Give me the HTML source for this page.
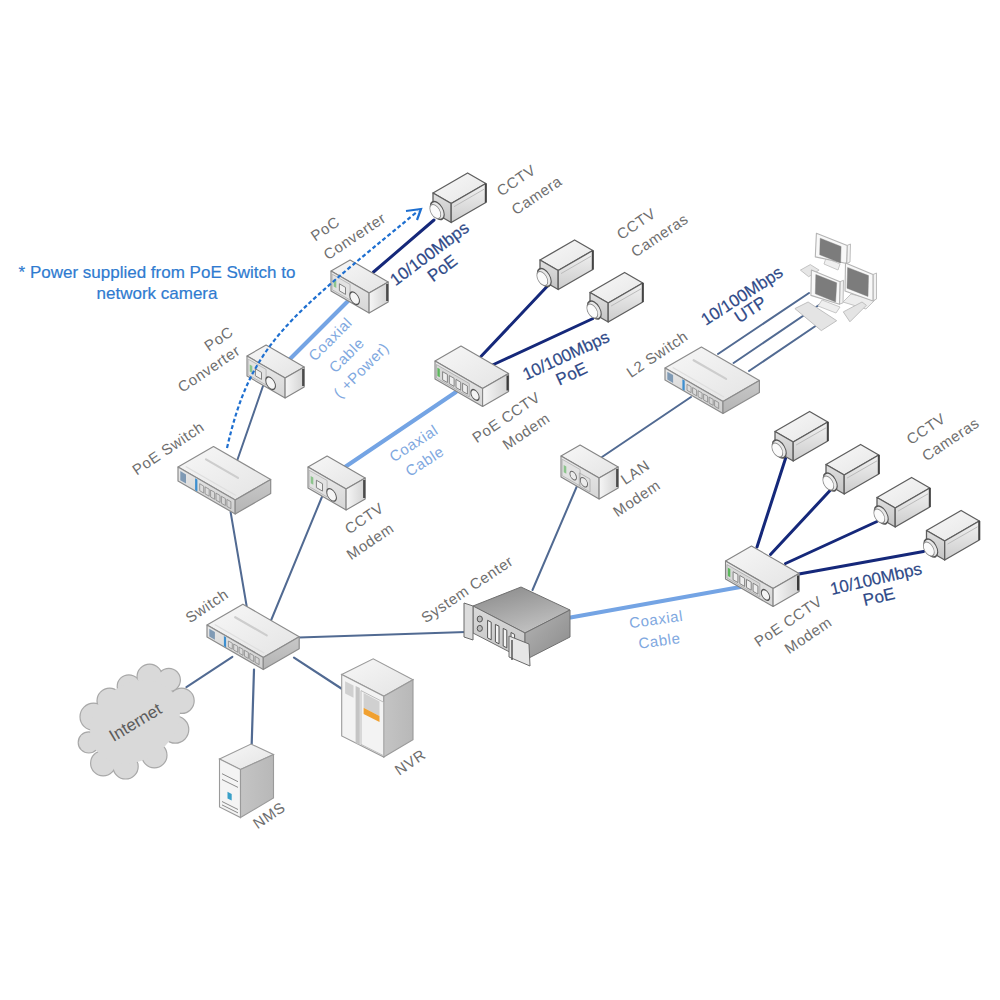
<!DOCTYPE html>
<html><head><meta charset="utf-8"><style>
html,body{margin:0;padding:0;background:#fff;width:1000px;height:1000px;overflow:hidden}
svg{display:block;font-family:"Liberation Sans",sans-serif}
</style></head><body>
<svg width="1000" height="1000" viewBox="0 0 1000 1000">
<defs>
<linearGradient id="gTop" x1="0" y1="0" x2="1" y2="1"><stop offset="0" stop-color="#f7f7f7"/><stop offset="1" stop-color="#e4e4e4"/></linearGradient>
<linearGradient id="gSwL" x1="0" y1="0" x2="0" y2="1"><stop offset="0" stop-color="#e8e8e8"/><stop offset="1" stop-color="#cfcfcf"/></linearGradient>
<linearGradient id="gSwR" x1="0" y1="0" x2="0" y2="1"><stop offset="0" stop-color="#c8c8c8"/><stop offset="1" stop-color="#b4b4b4"/></linearGradient>
<linearGradient id="gSbL" x1="0" y1="0" x2="0" y2="1"><stop offset="0" stop-color="#ececec"/><stop offset="1" stop-color="#d6d6d6"/></linearGradient>
<linearGradient id="gSbR" x1="0" y1="0" x2="1" y2="0"><stop offset="0" stop-color="#f6f6f6"/><stop offset="1" stop-color="#d2d2d2"/></linearGradient>
<linearGradient id="gCamT" x1="0" y1="0" x2="1" y2="1"><stop offset="0" stop-color="#f8f8f8"/><stop offset="1" stop-color="#e6e6e6"/></linearGradient>
<linearGradient id="gCamL" x1="0" y1="0" x2="0" y2="1"><stop offset="0" stop-color="#e0e0e0"/><stop offset="1" stop-color="#c4c4c4"/></linearGradient>
<linearGradient id="gCamR" x1="0" y1="0" x2="0" y2="1"><stop offset="0" stop-color="#f2f2f2"/><stop offset="1" stop-color="#cccccc"/></linearGradient>
<linearGradient id="gRackT" x1="0.2" y1="0" x2="0.7" y2="1"><stop offset="0" stop-color="#8c8c8c"/><stop offset="1" stop-color="#c4c4c4"/></linearGradient>
<linearGradient id="gRackL" x1="0" y1="0" x2="0" y2="1"><stop offset="0" stop-color="#dadada"/><stop offset="1" stop-color="#c4c4c4"/></linearGradient>
<linearGradient id="gRackR" x1="0" y1="0" x2="1" y2="1"><stop offset="0" stop-color="#b4b4b4"/><stop offset="1" stop-color="#8a8a8a"/></linearGradient>
<linearGradient id="gTwR" x1="0" y1="0" x2="1" y2="0"><stop offset="0" stop-color="#c4c4c4"/><stop offset="1" stop-color="#b8b8b8"/></linearGradient>
</defs>
<line x1="246.8" y1="607" x2="230.6" y2="512" stroke="#516a92" stroke-width="2" stroke-linecap="round"/>
<line x1="270.8" y1="621" x2="321.9" y2="497" stroke="#516a92" stroke-width="2" stroke-linecap="round"/>
<line x1="298.8" y1="637.6" x2="466" y2="632" stroke="#516a92" stroke-width="2" stroke-linecap="round"/>
<line x1="294" y1="657.6" x2="341.7" y2="688.75" stroke="#516a92" stroke-width="2.2" stroke-linecap="round"/>
<line x1="254" y1="669.6" x2="251.7" y2="744" stroke="#516a92" stroke-width="2.2" stroke-linecap="round"/>
<line x1="232.4" y1="656.8" x2="186.4" y2="687.2" stroke="#516a92" stroke-width="2" stroke-linecap="round"/>
<line x1="237" y1="461" x2="263" y2="386" stroke="#516a92" stroke-width="2" stroke-linecap="round"/>
<line x1="284" y1="365" x2="353" y2="296" stroke="#74a4e4" stroke-width="4" stroke-linecap="round"/>
<line x1="373.5" y1="272" x2="434" y2="220" stroke="#15287a" stroke-width="3" stroke-linecap="round"/>
<line x1="345" y1="467" x2="456" y2="392" stroke="#74a4e4" stroke-width="4" stroke-linecap="round"/>
<line x1="480" y1="357.5" x2="547.5" y2="286" stroke="#15287a" stroke-width="3" stroke-linecap="round"/>
<line x1="492.5" y1="365" x2="592.5" y2="318.75" stroke="#15287a" stroke-width="3" stroke-linecap="round"/>
<line x1="602" y1="457" x2="691" y2="397" stroke="#516a92" stroke-width="2" stroke-linecap="round"/>
<line x1="577" y1="486" x2="532.5" y2="590" stroke="#516a92" stroke-width="2" stroke-linecap="round"/>
<line x1="570.5" y1="617.5" x2="757" y2="584" stroke="#74a4e4" stroke-width="4" stroke-linecap="round"/>
<line x1="757" y1="547" x2="785.5" y2="458.5" stroke="#15287a" stroke-width="3" stroke-linecap="round"/>
<line x1="770.5" y1="554.5" x2="830.5" y2="490" stroke="#15287a" stroke-width="3" stroke-linecap="round"/>
<line x1="785.5" y1="563.5" x2="877" y2="521.5" stroke="#15287a" stroke-width="3" stroke-linecap="round"/>
<line x1="799" y1="574" x2="923.5" y2="551.5" stroke="#15287a" stroke-width="3" stroke-linecap="round"/>
<line x1="718" y1="354" x2="809" y2="293" stroke="#516a92" stroke-width="2" stroke-linecap="round"/>
<line x1="733.6" y1="363" x2="822" y2="303" stroke="#516a92" stroke-width="2" stroke-linecap="round"/>
<line x1="749" y1="371" x2="817" y2="325" stroke="#516a92" stroke-width="2" stroke-linecap="round"/>
<polygon points="178.0,467.0 213.5,446.5 270.7,479.5 235.2,500.0" fill="url(#gTop)" stroke="#8c8c8c" stroke-width="1.2" stroke-linejoin="round"/>
<polygon points="178.0,467.0 235.2,500.0 235.2,514.0 178.0,481.0" fill="url(#gSwL)" stroke="#8c8c8c" stroke-width="1.2" stroke-linejoin="round"/>
<polygon points="235.2,500.0 270.7,479.5 270.7,493.5 235.2,514.0" fill="url(#gSwR)" stroke="#8c8c8c" stroke-width="1.2" stroke-linejoin="round"/>
<line x1="206.0" y1="459.4" x2="238.0" y2="477.9" stroke="#cdcdcd" stroke-width="2.2" stroke-linecap="round"/>
<line x1="185.7" y1="466.5" x2="236.0" y2="495.6" stroke="#dedede" stroke-width="1.2"/>
<polygon points="180.3,471.1 186.0,474.4 186.0,483.5 180.3,480.2" fill="#7f9ab5"/>
<polygon points="195.1,478.3 197.4,479.6 197.4,491.5 195.1,490.2" fill="#3d8fd0"/>
<polygon points="199.7,483.7 203.7,486.1 203.7,493.1 199.7,490.7" fill="none" stroke="#888" stroke-width="0.8"/>
<polygon points="205.1,486.9 209.2,489.2 209.2,496.2 205.1,493.9" fill="none" stroke="#888" stroke-width="0.8"/>
<polygon points="210.6,490.0 214.6,492.3 214.6,499.3 210.6,497.0" fill="none" stroke="#888" stroke-width="0.8"/>
<polygon points="216.0,493.1 220.0,495.5 220.0,502.5 216.0,500.1" fill="none" stroke="#888" stroke-width="0.8"/>
<polygon points="221.4,496.3 225.4,498.6 225.4,505.6 221.4,503.3" fill="none" stroke="#888" stroke-width="0.8"/>
<polygon points="226.9,499.4 230.9,501.7 230.9,508.7 226.9,506.4" fill="none" stroke="#888" stroke-width="0.8"/>
<polygon points="207.0,625.0 242.9,604.2 299.2,636.8 263.3,657.5" fill="url(#gTop)" stroke="#8c8c8c" stroke-width="1.2" stroke-linejoin="round"/>
<polygon points="207.0,625.0 263.3,657.5 263.3,669.5 207.0,637.0" fill="url(#gSwL)" stroke="#8c8c8c" stroke-width="1.2" stroke-linejoin="round"/>
<polygon points="263.3,657.5 299.2,636.8 299.2,648.8 263.3,669.5" fill="url(#gSwR)" stroke="#8c8c8c" stroke-width="1.2" stroke-linejoin="round"/>
<line x1="235.2" y1="617.2" x2="266.7" y2="635.4" stroke="#cdcdcd" stroke-width="2.2" stroke-linecap="round"/>
<line x1="214.7" y1="624.5" x2="264.2" y2="653.1" stroke="#dedede" stroke-width="1.2"/>
<polygon points="209.3,628.7 214.9,631.9 214.9,639.8 209.3,636.5" fill="#7f9ab5"/>
<polygon points="223.9,636.0 226.1,637.2 226.1,647.4 223.9,646.1" fill="#3d8fd0"/>
<polygon points="228.4,641.0 232.3,643.2 232.3,649.2 228.4,647.0" fill="none" stroke="#888" stroke-width="0.8"/>
<polygon points="233.7,644.0 237.7,646.3 237.7,652.3 233.7,650.0" fill="none" stroke="#888" stroke-width="0.8"/>
<polygon points="239.1,647.1 243.0,649.4 243.0,655.4 239.1,653.1" fill="none" stroke="#888" stroke-width="0.8"/>
<polygon points="244.4,650.2 248.4,652.5 248.4,658.5 244.4,656.2" fill="none" stroke="#888" stroke-width="0.8"/>
<polygon points="249.8,653.3 253.7,655.6 253.7,661.6 249.8,659.3" fill="none" stroke="#888" stroke-width="0.8"/>
<polygon points="255.1,656.4 259.1,658.7 259.1,664.7 255.1,662.4" fill="none" stroke="#888" stroke-width="0.8"/>
<polygon points="665.0,368.0 701.4,347.0 759.4,380.5 723.0,401.5" fill="url(#gTop)" stroke="#8c8c8c" stroke-width="1.2" stroke-linejoin="round"/>
<polygon points="665.0,368.0 723.0,401.5 723.0,413.5 665.0,380.0" fill="url(#gSwL)" stroke="#8c8c8c" stroke-width="1.2" stroke-linejoin="round"/>
<polygon points="723.0,401.5 759.4,380.5 759.4,392.5 723.0,413.5" fill="url(#gSwR)" stroke="#8c8c8c" stroke-width="1.2" stroke-linejoin="round"/>
<line x1="693.6" y1="360.2" x2="726.1" y2="378.9" stroke="#cdcdcd" stroke-width="2.2" stroke-linecap="round"/>
<line x1="672.8" y1="367.5" x2="723.9" y2="397.0" stroke="#dedede" stroke-width="1.2"/>
<polygon points="667.3,371.7 673.1,375.1 673.1,382.9 667.3,379.5" fill="#7f9ab5"/>
<polygon points="682.4,379.2 684.7,380.6 684.7,390.8 682.4,389.4" fill="#3d8fd0"/>
<polygon points="687.0,384.3 691.1,386.7 691.1,392.7 687.0,390.3" fill="none" stroke="#888" stroke-width="0.8"/>
<polygon points="692.6,387.5 696.6,389.9 696.6,395.9 692.6,393.5" fill="none" stroke="#888" stroke-width="0.8"/>
<polygon points="698.1,390.7 702.1,393.0 702.1,399.0 698.1,396.7" fill="none" stroke="#888" stroke-width="0.8"/>
<polygon points="703.6,393.9 707.6,396.2 707.6,402.2 703.6,399.9" fill="none" stroke="#888" stroke-width="0.8"/>
<polygon points="709.1,397.1 713.2,399.4 713.2,405.4 709.1,403.1" fill="none" stroke="#888" stroke-width="0.8"/>
<polygon points="714.6,400.2 718.7,402.6 718.7,408.6 714.6,406.2" fill="none" stroke="#888" stroke-width="0.8"/>
<polygon points="247.0,356.0 266.1,345.0 304.2,367.0 285.1,378.0" fill="url(#gTop)" stroke="#858585" stroke-width="1.1" stroke-linejoin="round"/>
<polygon points="247.0,356.0 285.1,378.0 285.1,398.0 247.0,376.0" fill="url(#gSbL)" stroke="#858585" stroke-width="1.1" stroke-linejoin="round"/>
<polygon points="285.1,378.0 304.2,367.0 304.2,387.0 285.1,398.0" fill="url(#gSbR)" stroke="#858585" stroke-width="1.1" stroke-linejoin="round"/>
<line x1="303.2" y1="369.0" x2="303.2" y2="386.0" stroke="#4a4a4a" stroke-width="2.2"/>
<polygon points="248.1,359.1 266.1,369.4 266.1,385.0 248.1,374.7" fill="#e2e2e2" stroke="#b0b0b0" stroke-width="0.8"/>
<polygon points="249.7,364.5 252.3,366.1 252.3,373.1 249.7,371.5" fill="#8cc48c"/>
<polygon points="255.4,368.8 261.5,372.4 261.5,379.4 255.4,375.8" fill="#f0f0f0" stroke="#777" stroke-width="0.9"/>
<ellipse cx="0" cy="0" rx="5.6" ry="5.6" transform="matrix(0.8660,0.5000,0,1,270.6,383.2)" fill="#f6f6f6" stroke="#555" stroke-width="1.2"/>
<polygon points="331.0,271.0 350.1,260.0 388.2,282.0 369.1,293.0" fill="url(#gTop)" stroke="#858585" stroke-width="1.1" stroke-linejoin="round"/>
<polygon points="331.0,271.0 369.1,293.0 369.1,313.0 331.0,291.0" fill="url(#gSbL)" stroke="#858585" stroke-width="1.1" stroke-linejoin="round"/>
<polygon points="369.1,293.0 388.2,282.0 388.2,302.0 369.1,313.0" fill="url(#gSbR)" stroke="#858585" stroke-width="1.1" stroke-linejoin="round"/>
<line x1="387.2" y1="284.0" x2="387.2" y2="301.0" stroke="#4a4a4a" stroke-width="2.2"/>
<polygon points="332.1,274.1 350.1,284.4 350.1,300.0 332.1,289.7" fill="#e2e2e2" stroke="#b0b0b0" stroke-width="0.8"/>
<polygon points="333.7,279.5 336.3,281.1 336.3,288.1 333.7,286.5" fill="#8cc48c"/>
<polygon points="339.4,283.8 345.5,287.4 345.5,294.4 339.4,290.8" fill="#f0f0f0" stroke="#777" stroke-width="0.9"/>
<ellipse cx="0" cy="0" rx="5.6" ry="5.6" transform="matrix(0.8660,0.5000,0,1,354.6,298.2)" fill="#f6f6f6" stroke="#555" stroke-width="1.2"/>
<polygon points="308.0,467.0 327.1,456.0 365.2,478.0 346.1,489.0" fill="url(#gTop)" stroke="#858585" stroke-width="1.1" stroke-linejoin="round"/>
<polygon points="308.0,467.0 346.1,489.0 346.1,510.0 308.0,488.0" fill="url(#gSbL)" stroke="#858585" stroke-width="1.1" stroke-linejoin="round"/>
<polygon points="346.1,489.0 365.2,478.0 365.2,499.0 346.1,510.0" fill="url(#gSbR)" stroke="#858585" stroke-width="1.1" stroke-linejoin="round"/>
<line x1="364.2" y1="480.0" x2="364.2" y2="498.0" stroke="#4a4a4a" stroke-width="2.2"/>
<polygon points="309.1,470.2 327.1,480.5 327.1,496.9 309.1,486.6" fill="#e2e2e2" stroke="#b0b0b0" stroke-width="0.8"/>
<polygon points="310.7,475.9 313.3,477.4 313.3,484.8 310.7,483.2" fill="#8cc48c"/>
<polygon points="316.4,480.2 322.5,483.8 322.5,491.1 316.4,487.6" fill="#f0f0f0" stroke="#777" stroke-width="0.9"/>
<ellipse cx="0" cy="0" rx="5.6" ry="5.6" transform="matrix(0.8660,0.5000,0,1,331.6,494.9)" fill="#f6f6f6" stroke="#555" stroke-width="1.2"/>
<polygon points="561.0,456.0 580.1,445.0 618.2,467.0 599.1,478.0" fill="url(#gTop)" stroke="#858585" stroke-width="1.1" stroke-linejoin="round"/>
<polygon points="561.0,456.0 599.1,478.0 599.1,499.0 561.0,477.0" fill="url(#gSbL)" stroke="#858585" stroke-width="1.1" stroke-linejoin="round"/>
<polygon points="599.1,478.0 618.2,467.0 618.2,488.0 599.1,499.0" fill="url(#gSbR)" stroke="#858585" stroke-width="1.1" stroke-linejoin="round"/>
<line x1="617.2" y1="469.0" x2="617.2" y2="487.0" stroke="#4a4a4a" stroke-width="2.2"/>
<polygon points="562.1,459.2 580.1,469.5 580.1,485.9 562.1,475.6" fill="#e2e2e2" stroke="#b0b0b0" stroke-width="0.8"/>
<polygon points="563.7,464.9 566.3,466.4 566.3,473.8 563.7,472.2" fill="#8cc48c"/>
<ellipse cx="0" cy="0" rx="3.8" ry="3.8" transform="matrix(0.8660,0.5000,0,1,573.2,475.6)" fill="#ececec" stroke="#666" stroke-width="1"/>
<ellipse cx="0" cy="0" rx="4.2" ry="4.2" transform="matrix(0.8660,0.5000,0,1,583.9,482.2)" fill="#ececec" stroke="#666" stroke-width="1"/>
<polygon points="579.3,472.9 590.0,479.0 590.0,492.0 579.3,485.9" fill="none" stroke="#aaa" stroke-width="0.8"/>
<polygon points="435.0,361.0 461.0,346.0 508.6,373.5 482.6,388.5" fill="url(#gTop)" stroke="#858585" stroke-width="1.1" stroke-linejoin="round"/>
<polygon points="435.0,361.0 482.6,388.5 482.6,406.5 435.0,379.0" fill="url(#gSbL)" stroke="#858585" stroke-width="1.1" stroke-linejoin="round"/>
<polygon points="482.6,388.5 508.6,373.5 508.6,391.5 482.6,406.5" fill="url(#gSbR)" stroke="#858585" stroke-width="1.1" stroke-linejoin="round"/>
<line x1="507.6" y1="375.5" x2="507.6" y2="390.5" stroke="#3a3a3a" stroke-width="2.2"/>
<polygon points="436.4,364.5 469.3,383.5 469.3,397.0 436.4,378.0" fill="#d8d8d8" stroke="#a8a8a8" stroke-width="0.8"/>
<polygon points="437.4,367.8 439.8,369.1 439.8,377.2 437.4,375.9" fill="#5cb85c"/>
<polygon points="442.6,371.7 447.4,374.4 447.4,382.5 442.6,379.8" fill="#eeeeee" stroke="#7a7a7a" stroke-width="0.9"/>
<polygon points="449.3,375.6 454.1,378.3 454.1,386.4 449.3,383.6" fill="#eeeeee" stroke="#7a7a7a" stroke-width="0.9"/>
<polygon points="456.0,379.4 460.7,382.2 460.7,390.2 456.0,387.5" fill="#eeeeee" stroke="#7a7a7a" stroke-width="0.9"/>
<polygon points="462.6,383.2 467.4,386.0 467.4,394.1 462.6,391.3" fill="#eeeeee" stroke="#7a7a7a" stroke-width="0.9"/>
<ellipse cx="0" cy="0" rx="4.8" ry="4.8" transform="matrix(0.8660,0.5000,0,1,475.0,394.9)" fill="#f4f4f4" stroke="#555" stroke-width="1.2"/>
<polygon points="725.5,561.0 751.5,546.0 799.1,573.5 773.1,588.5" fill="url(#gTop)" stroke="#858585" stroke-width="1.1" stroke-linejoin="round"/>
<polygon points="725.5,561.0 773.1,588.5 773.1,606.5 725.5,579.0" fill="url(#gSbL)" stroke="#858585" stroke-width="1.1" stroke-linejoin="round"/>
<polygon points="773.1,588.5 799.1,573.5 799.1,591.5 773.1,606.5" fill="url(#gSbR)" stroke="#858585" stroke-width="1.1" stroke-linejoin="round"/>
<line x1="798.1" y1="575.5" x2="798.1" y2="590.5" stroke="#3a3a3a" stroke-width="2.2"/>
<polygon points="726.9,564.5 759.8,583.5 759.8,597.0 726.9,578.0" fill="#d8d8d8" stroke="#a8a8a8" stroke-width="0.8"/>
<polygon points="727.9,567.8 730.3,569.1 730.3,577.2 727.9,575.9" fill="#5cb85c"/>
<polygon points="733.1,571.7 737.9,574.4 737.9,582.5 733.1,579.8" fill="#eeeeee" stroke="#7a7a7a" stroke-width="0.9"/>
<polygon points="739.8,575.5 744.6,578.3 744.6,586.4 739.8,583.6" fill="#eeeeee" stroke="#7a7a7a" stroke-width="0.9"/>
<polygon points="746.5,579.4 751.2,582.1 751.2,590.2 746.5,587.5" fill="#eeeeee" stroke="#7a7a7a" stroke-width="0.9"/>
<polygon points="753.1,583.2 757.9,586.0 757.9,594.1 753.1,591.4" fill="#eeeeee" stroke="#7a7a7a" stroke-width="0.9"/>
<ellipse cx="0" cy="0" rx="4.8" ry="4.8" transform="matrix(0.8660,0.5000,0,1,765.5,594.9)" fill="#f4f4f4" stroke="#555" stroke-width="1.2"/>
<polygon points="433.0,193.0 467.6,173.0 485.8,183.5 451.2,203.5" fill="url(#gCamT)" stroke="#5e5e5e" stroke-width="1.3" stroke-linejoin="round"/>
<polygon points="433.0,193.0 451.2,203.5 451.2,222.5 433.0,212.0" fill="url(#gCamL)" stroke="#5e5e5e" stroke-width="1.3" stroke-linejoin="round"/>
<polygon points="451.2,203.5 485.8,183.5 485.8,202.5 451.2,222.5" fill="url(#gCamR)" stroke="#5e5e5e" stroke-width="1.3" stroke-linejoin="round"/>
<line x1="485.8" y1="183.5" x2="485.8" y2="202.5" stroke="#444" stroke-width="2"/>
<line x1="454.0" y1="206.7" x2="484.1" y2="189.2" stroke="#bbb" stroke-width="1"/>
<ellipse cx="0" cy="0" rx="8" ry="8" transform="matrix(0.8660,0.5000,0,1,437.3,210.5)" fill="#e8e8e8" stroke="#555" stroke-width="1.3"/>
<ellipse cx="0" cy="0" rx="6.3" ry="6.3" transform="matrix(0.8660,0.5000,0,1,435.3,211.5)" fill="#fbfbfb" stroke="#888" stroke-width="0.9"/>
<polygon points="540.0,260.0 574.6,240.0 592.8,250.5 558.2,270.5" fill="url(#gCamT)" stroke="#5e5e5e" stroke-width="1.3" stroke-linejoin="round"/>
<polygon points="540.0,260.0 558.2,270.5 558.2,289.5 540.0,279.0" fill="url(#gCamL)" stroke="#5e5e5e" stroke-width="1.3" stroke-linejoin="round"/>
<polygon points="558.2,270.5 592.8,250.5 592.8,269.5 558.2,289.5" fill="url(#gCamR)" stroke="#5e5e5e" stroke-width="1.3" stroke-linejoin="round"/>
<line x1="592.8" y1="250.5" x2="592.8" y2="269.5" stroke="#444" stroke-width="2"/>
<line x1="561.0" y1="273.6" x2="591.1" y2="256.2" stroke="#bbb" stroke-width="1"/>
<ellipse cx="0" cy="0" rx="8" ry="8" transform="matrix(0.8660,0.5000,0,1,544.3,277.5)" fill="#e8e8e8" stroke="#555" stroke-width="1.3"/>
<ellipse cx="0" cy="0" rx="6.3" ry="6.3" transform="matrix(0.8660,0.5000,0,1,542.3,278.5)" fill="#fbfbfb" stroke="#888" stroke-width="0.9"/>
<polygon points="590.0,292.5 624.6,272.5 642.8,283.0 608.2,303.0" fill="url(#gCamT)" stroke="#5e5e5e" stroke-width="1.3" stroke-linejoin="round"/>
<polygon points="590.0,292.5 608.2,303.0 608.2,322.0 590.0,311.5" fill="url(#gCamL)" stroke="#5e5e5e" stroke-width="1.3" stroke-linejoin="round"/>
<polygon points="608.2,303.0 642.8,283.0 642.8,302.0 608.2,322.0" fill="url(#gCamR)" stroke="#5e5e5e" stroke-width="1.3" stroke-linejoin="round"/>
<line x1="642.8" y1="283.0" x2="642.8" y2="302.0" stroke="#444" stroke-width="2"/>
<line x1="611.0" y1="306.1" x2="641.1" y2="288.8" stroke="#bbb" stroke-width="1"/>
<ellipse cx="0" cy="0" rx="8" ry="8" transform="matrix(0.8660,0.5000,0,1,594.3,310.0)" fill="#e8e8e8" stroke="#555" stroke-width="1.3"/>
<ellipse cx="0" cy="0" rx="6.3" ry="6.3" transform="matrix(0.8660,0.5000,0,1,592.3,311.0)" fill="#fbfbfb" stroke="#888" stroke-width="0.9"/>
<polygon points="775.0,431.5 809.6,411.5 827.8,422.0 793.2,442.0" fill="url(#gCamT)" stroke="#5e5e5e" stroke-width="1.3" stroke-linejoin="round"/>
<polygon points="775.0,431.5 793.2,442.0 793.2,461.0 775.0,450.5" fill="url(#gCamL)" stroke="#5e5e5e" stroke-width="1.3" stroke-linejoin="round"/>
<polygon points="793.2,442.0 827.8,422.0 827.8,441.0 793.2,461.0" fill="url(#gCamR)" stroke="#5e5e5e" stroke-width="1.3" stroke-linejoin="round"/>
<line x1="827.8" y1="422.0" x2="827.8" y2="441.0" stroke="#444" stroke-width="2"/>
<line x1="796.0" y1="445.1" x2="826.1" y2="427.8" stroke="#bbb" stroke-width="1"/>
<ellipse cx="0" cy="0" rx="8" ry="8" transform="matrix(0.8660,0.5000,0,1,779.3,449.0)" fill="#e8e8e8" stroke="#555" stroke-width="1.3"/>
<ellipse cx="0" cy="0" rx="6.3" ry="6.3" transform="matrix(0.8660,0.5000,0,1,777.3,450.0)" fill="#fbfbfb" stroke="#888" stroke-width="0.9"/>
<polygon points="826.0,464.5 860.6,444.5 878.8,455.0 844.2,475.0" fill="url(#gCamT)" stroke="#5e5e5e" stroke-width="1.3" stroke-linejoin="round"/>
<polygon points="826.0,464.5 844.2,475.0 844.2,494.0 826.0,483.5" fill="url(#gCamL)" stroke="#5e5e5e" stroke-width="1.3" stroke-linejoin="round"/>
<polygon points="844.2,475.0 878.8,455.0 878.8,474.0 844.2,494.0" fill="url(#gCamR)" stroke="#5e5e5e" stroke-width="1.3" stroke-linejoin="round"/>
<line x1="878.8" y1="455.0" x2="878.8" y2="474.0" stroke="#444" stroke-width="2"/>
<line x1="847.0" y1="478.1" x2="877.1" y2="460.8" stroke="#bbb" stroke-width="1"/>
<ellipse cx="0" cy="0" rx="8" ry="8" transform="matrix(0.8660,0.5000,0,1,830.3,482.0)" fill="#e8e8e8" stroke="#555" stroke-width="1.3"/>
<ellipse cx="0" cy="0" rx="6.3" ry="6.3" transform="matrix(0.8660,0.5000,0,1,828.3,483.0)" fill="#fbfbfb" stroke="#888" stroke-width="0.9"/>
<polygon points="877.0,497.5 911.6,477.5 929.8,488.0 895.2,508.0" fill="url(#gCamT)" stroke="#5e5e5e" stroke-width="1.3" stroke-linejoin="round"/>
<polygon points="877.0,497.5 895.2,508.0 895.2,527.0 877.0,516.5" fill="url(#gCamL)" stroke="#5e5e5e" stroke-width="1.3" stroke-linejoin="round"/>
<polygon points="895.2,508.0 929.8,488.0 929.8,507.0 895.2,527.0" fill="url(#gCamR)" stroke="#5e5e5e" stroke-width="1.3" stroke-linejoin="round"/>
<line x1="929.8" y1="488.0" x2="929.8" y2="507.0" stroke="#444" stroke-width="2"/>
<line x1="898.0" y1="511.1" x2="928.1" y2="493.8" stroke="#bbb" stroke-width="1"/>
<ellipse cx="0" cy="0" rx="8" ry="8" transform="matrix(0.8660,0.5000,0,1,881.3,515.0)" fill="#e8e8e8" stroke="#555" stroke-width="1.3"/>
<ellipse cx="0" cy="0" rx="6.3" ry="6.3" transform="matrix(0.8660,0.5000,0,1,879.3,516.0)" fill="#fbfbfb" stroke="#888" stroke-width="0.9"/>
<polygon points="926.5,530.5 961.1,510.5 979.3,521.0 944.7,541.0" fill="url(#gCamT)" stroke="#5e5e5e" stroke-width="1.3" stroke-linejoin="round"/>
<polygon points="926.5,530.5 944.7,541.0 944.7,560.0 926.5,549.5" fill="url(#gCamL)" stroke="#5e5e5e" stroke-width="1.3" stroke-linejoin="round"/>
<polygon points="944.7,541.0 979.3,521.0 979.3,540.0 944.7,560.0" fill="url(#gCamR)" stroke="#5e5e5e" stroke-width="1.3" stroke-linejoin="round"/>
<line x1="979.3" y1="521.0" x2="979.3" y2="540.0" stroke="#444" stroke-width="2"/>
<line x1="947.5" y1="544.1" x2="977.6" y2="526.8" stroke="#bbb" stroke-width="1"/>
<ellipse cx="0" cy="0" rx="8" ry="8" transform="matrix(0.8660,0.5000,0,1,930.8,548.0)" fill="#e8e8e8" stroke="#555" stroke-width="1.3"/>
<ellipse cx="0" cy="0" rx="6.3" ry="6.3" transform="matrix(0.8660,0.5000,0,1,928.8,549.0)" fill="#fbfbfb" stroke="#888" stroke-width="0.9"/>
<polygon points="473.0,606.0 521.0,587.0 570.0,610.0 525.0,633.0" fill="url(#gRackT)" stroke="#707070" stroke-width="1"/>
<polygon points="473.0,606.0 525.0,633.0 525.0,660.0 473.0,633.0" fill="url(#gRackL)" stroke="#707070" stroke-width="1"/>
<polygon points="525.0,633.0 570.0,610.0 570.0,637.0 525.0,660.0" fill="url(#gRackR)" stroke="#707070" stroke-width="1"/>
<polygon points="464.0,603.0 473.0,606.0 473.0,640.0 464.0,637.0" fill="#dcdcdc" stroke="#6a6a6a" stroke-width="1"/>
<polygon points="487.6,620.3 491.2,622.2 491.2,639.8 487.6,637.9" fill="#f4f4f4" stroke="#555" stroke-width="1"/>
<polygon points="495.4,624.4 499.0,626.2 499.0,643.8 495.4,641.9" fill="#f4f4f4" stroke="#555" stroke-width="1"/>
<polygon points="503.2,628.4 506.8,630.3 506.8,647.8 503.2,646.0" fill="#f4f4f4" stroke="#555" stroke-width="1"/>
<polygon points="511.0,632.5 514.6,634.4 514.6,651.9 511.0,650.0" fill="#f4f4f4" stroke="#555" stroke-width="1"/>
<ellipse cx="479.8" cy="619.0" rx="2.6" ry="3" fill="#bbb" stroke="#555" stroke-width="1"/>
<ellipse cx="479.8" cy="628.4" rx="2.6" ry="3" fill="#bbb" stroke="#555" stroke-width="1"/>
<polygon points="509.0,636.0 529.0,644.0 530.0,666.0 509.0,657.0" fill="#e6e6e6" stroke="#6a6a6a" stroke-width="1"/>
<line x1="512" y1="640" x2="512" y2="660" stroke="#555" stroke-width="1.5"/>
<polygon points="219.5,759.0 251.0,744.0 273.5,754.5 240.5,769.5" fill="url(#gTop)" stroke="#9a9a9a" stroke-width="1.1"/>
<polygon points="219.5,759.0 240.5,769.5 240.5,817.5 219.5,807.0" fill="#f4f4f4" stroke="#9a9a9a" stroke-width="1.1"/>
<polygon points="240.5,769.5 273.5,754.5 273.5,798.0 240.5,817.5" fill="url(#gTwR)" stroke="#9a9a9a" stroke-width="1.1"/>
<line x1="222.0" y1="773.7" x2="238.0" y2="781.7" stroke="#8a8a8a" stroke-width="1"/>
<line x1="222.0" y1="779.5" x2="238.0" y2="787.4" stroke="#8a8a8a" stroke-width="1"/>
<line x1="222.0" y1="801.5" x2="238.0" y2="809.5" stroke="#8a8a8a" stroke-width="1"/>
<line x1="222.0" y1="804.9" x2="238.0" y2="812.9" stroke="#8a8a8a" stroke-width="1"/>
<polygon points="227.5,791.8 231.7,793.9 231.7,800.6 227.5,798.5" fill="#3aa0c8"/>
<polygon points="341.7,674.5 373.2,658.8 413.0,679.8 383.8,696.2" fill="url(#gTop)" stroke="#9a9a9a" stroke-width="1.1"/>
<polygon points="341.7,674.5 383.8,696.2 383.8,757.0 341.7,736.0" fill="#f3f3f3" stroke="#9a9a9a" stroke-width="1.1"/>
<polygon points="383.8,696.2 413.0,679.8 413.0,739.8 383.8,757.0" fill="url(#gTwR)" stroke="#9a9a9a" stroke-width="1.1"/>
<polygon points="355.6,686.0 359.8,688.1 359.8,745.0 355.6,742.9" fill="#c4c4c4"/>
<polygon points="345.1,681.2 353.5,685.5 353.5,697.8 345.1,693.4" fill="#d0d0d0"/>
<polygon points="363.6,693.1 379.5,701.4 379.5,716.0 363.6,707.8" fill="#d0d0d0"/>
<polygon points="363.6,707.8 379.5,716.0 379.5,722.1 363.6,713.9" fill="#f0a030"/>
<polygon points="361.0,690.6 383.8,702.3 383.8,755.8 361.0,744.4" fill="none" stroke="#bdbdbd" stroke-width="1"/>
<path d="M227,448 C250.8,344 285,320.7 418,211" fill="none" stroke="#1e6fd0" stroke-width="2.2" stroke-dasharray="4,2.5"/>
<polyline points="406,211 421,209 417,220" fill="none" stroke="#1e6fd0" stroke-width="2.2" stroke-linejoin="miter"/>
<g>
<circle cx="149.6" cy="676.8" r="12" fill="#a8a8a8" stroke="#a8a8a8" stroke-width="2.4"/>
<circle cx="128.8" cy="686.4" r="11" fill="#a8a8a8" stroke="#a8a8a8" stroke-width="2.4"/>
<circle cx="109.6" cy="700.8" r="12" fill="#a8a8a8" stroke="#a8a8a8" stroke-width="2.4"/>
<circle cx="93.6" cy="716.8" r="13" fill="#a8a8a8" stroke="#a8a8a8" stroke-width="2.4"/>
<circle cx="88.8" cy="742.4" r="10" fill="#a8a8a8" stroke="#a8a8a8" stroke-width="2.4"/>
<circle cx="103.2" cy="763.2" r="12" fill="#a8a8a8" stroke="#a8a8a8" stroke-width="2.4"/>
<circle cx="125.6" cy="766.4" r="12" fill="#a8a8a8" stroke="#a8a8a8" stroke-width="2.4"/>
<circle cx="154.4" cy="755.2" r="12" fill="#a8a8a8" stroke="#a8a8a8" stroke-width="2.4"/>
<circle cx="175.2" cy="729.6" r="13" fill="#a8a8a8" stroke="#a8a8a8" stroke-width="2.4"/>
<circle cx="181.6" cy="700.8" r="12" fill="#a8a8a8" stroke="#a8a8a8" stroke-width="2.4"/>
<circle cx="168.8" cy="680" r="11" fill="#a8a8a8" stroke="#a8a8a8" stroke-width="2.4"/>
<circle cx="149.6" cy="676.8" r="12" fill="#d9d9d9"/>
<circle cx="128.8" cy="686.4" r="11" fill="#d9d9d9"/>
<circle cx="109.6" cy="700.8" r="12" fill="#d9d9d9"/>
<circle cx="93.6" cy="716.8" r="13" fill="#d9d9d9"/>
<circle cx="88.8" cy="742.4" r="10" fill="#d9d9d9"/>
<circle cx="103.2" cy="763.2" r="12" fill="#d9d9d9"/>
<circle cx="125.6" cy="766.4" r="12" fill="#d9d9d9"/>
<circle cx="154.4" cy="755.2" r="12" fill="#d9d9d9"/>
<circle cx="175.2" cy="729.6" r="13" fill="#d9d9d9"/>
<circle cx="181.6" cy="700.8" r="12" fill="#d9d9d9"/>
<circle cx="168.8" cy="680" r="11" fill="#d9d9d9"/>
<ellipse cx="135" cy="722" rx="48" ry="38" transform="rotate(-35 135 722)" fill="#d9d9d9"/>
</g>
<polygon points="800.4,270.1 810.3,264.6 819.1,270.1 808.7,276.7" fill="#e6e6e6" stroke="#c4c4c4" stroke-width="1.0" stroke-linejoin="round"/>
<polygon points="826.0,258.0 840.0,264.0 838.0,270.0 824.0,264.0" fill="#efefef" stroke="#c8c8c8" stroke-width="1.0" stroke-linejoin="round"/>
<polygon points="847.2,245.4 850.5,244.0 850.0,262.0 846.6,263.5" fill="#f2f2f2" stroke="#bdbdbd" stroke-width="1" stroke-linejoin="round"/>
<polygon points="816.4,233.3 847.2,245.4 846.6,263.5 815.3,256.9" fill="#f8f8f8" stroke="#b4b4b4" stroke-width="1.1" stroke-linejoin="round"/>
<polygon points="820.2,238.2 841.1,246.5 840.6,263.0 819.7,254.7" fill="#7c7c7c" stroke="#7c7c7c" stroke-width="0.4" stroke-linejoin="round"/>
<polygon points="851.0,294.0 875.0,300.0 866.0,309.0 843.0,302.0" fill="#ededed" stroke="#c4c4c4" stroke-width="1.0" stroke-linejoin="round"/>
<polygon points="873.0,274.5 876.5,273.0 876.5,299.0 873.0,300.9" fill="#f2f2f2" stroke="#bdbdbd" stroke-width="1" stroke-linejoin="round"/>
<polygon points="845.5,263.0 873.0,274.5 873.0,300.9 845.0,291.0" fill="#f8f8f8" stroke="#b4b4b4" stroke-width="1.1" stroke-linejoin="round"/>
<polygon points="847.6,267.4 868.5,275.6 868.0,296.5 847.0,288.2" fill="#7c7c7c" stroke="#7c7c7c" stroke-width="0.4" stroke-linejoin="round"/>
<polygon points="794.9,308.6 808.1,302.0 836.7,320.7 821.3,330.6" fill="#e4e4e4" stroke="#c0c0c0" stroke-width="1.0" stroke-linejoin="round"/>
<polygon points="843.3,311.9 862.0,302.0 866.4,305.3 849.9,321.8" fill="#e4e4e4" stroke="#c0c0c0" stroke-width="1.0" stroke-linejoin="round"/>
<polygon points="822.0,300.0 840.0,307.0 836.0,313.0 818.0,306.0" fill="#efefef" stroke="#c8c8c8" stroke-width="1.0" stroke-linejoin="round"/>
<polygon points="840.0,281.7 843.5,280.3 843.0,302.8 839.5,304.2" fill="#f2f2f2" stroke="#bdbdbd" stroke-width="1" stroke-linejoin="round"/>
<polygon points="811.4,270.1 840.0,281.7 839.5,304.2 810.9,295.4" fill="#f8f8f8" stroke="#b4b4b4" stroke-width="1.1" stroke-linejoin="round"/>
<polygon points="815.8,274.5 836.7,282.8 835.6,302.0 815.3,293.8" fill="#7c7c7c" stroke="#7c7c7c" stroke-width="0.4" stroke-linejoin="round"/>
<text x="157" y="278" text-anchor="middle" font-size="17" fill="#2f7bd0" stroke="#2f7bd0" stroke-width="0.2">* Power supplied from PoE Switch to</text>
<text x="157" y="299" text-anchor="middle" font-size="17" fill="#2f7bd0" stroke="#2f7bd0" stroke-width="0.2">network camera</text>
<text transform="translate(218.6,338.5) rotate(-34)" text-anchor="middle" dominant-baseline="central" font-size="15" fill="#6e6e6e" letter-spacing="0.6">PoC</text>
<text transform="translate(208.7,368.6) rotate(-34)" text-anchor="middle" dominant-baseline="central" font-size="15" fill="#6e6e6e" letter-spacing="0.6">Converter</text>
<text transform="translate(325.0,228.5) rotate(-34)" text-anchor="middle" dominant-baseline="central" font-size="15" fill="#6e6e6e" letter-spacing="0.6">PoC</text>
<text transform="translate(354.5,236.0) rotate(-34)" text-anchor="middle" dominant-baseline="central" font-size="15" fill="#6e6e6e" letter-spacing="0.6">Converter</text>
<text transform="translate(516.0,180.0) rotate(-34)" text-anchor="middle" dominant-baseline="central" font-size="15" fill="#6e6e6e" letter-spacing="0.6">CCTV</text>
<text transform="translate(536.6,195.0) rotate(-34)" text-anchor="middle" dominant-baseline="central" font-size="15" fill="#6e6e6e" letter-spacing="0.6">Camera</text>
<text transform="translate(429.5,254.0) rotate(-37)" text-anchor="middle" dominant-baseline="central" font-size="17" fill="#2f4a88" stroke="#2f4a88" stroke-width="0.2">10/100Mbps</text>
<text transform="translate(442.5,268.5) rotate(-37)" text-anchor="middle" dominant-baseline="central" font-size="17" fill="#2f4a88" stroke="#2f4a88" stroke-width="0.2">PoE</text>
<text transform="translate(330.0,339.0) rotate(-45)" text-anchor="middle" dominant-baseline="central" font-size="15" fill="#80a8e0" letter-spacing="0.6">Coaxial</text>
<text transform="translate(346.4,355.0) rotate(-45)" text-anchor="middle" dominant-baseline="central" font-size="15" fill="#80a8e0" letter-spacing="0.6">Cable</text>
<text transform="translate(361.0,370.0) rotate(-45)" text-anchor="middle" dominant-baseline="central" font-size="15" fill="#80a8e0" letter-spacing="0.6">( +Power)</text>
<text transform="translate(168.0,448.0) rotate(-34)" text-anchor="middle" dominant-baseline="central" font-size="15" fill="#6e6e6e" letter-spacing="0.6">PoE Switch</text>
<text transform="translate(206.8,605.6) rotate(-34)" text-anchor="middle" dominant-baseline="central" font-size="15" fill="#6e6e6e" letter-spacing="0.6">Switch</text>
<text transform="translate(364.0,518.0) rotate(-34)" text-anchor="middle" dominant-baseline="central" font-size="15" fill="#6e6e6e" letter-spacing="0.6">CCTV</text>
<text transform="translate(370.0,541.0) rotate(-34)" text-anchor="middle" dominant-baseline="central" font-size="15" fill="#6e6e6e" letter-spacing="0.6">Modem</text>
<text transform="translate(413.5,443.0) rotate(-33)" text-anchor="middle" dominant-baseline="central" font-size="15" fill="#80a8e0" letter-spacing="0.6">Coaxial</text>
<text transform="translate(424.5,461.0) rotate(-33)" text-anchor="middle" dominant-baseline="central" font-size="15" fill="#80a8e0" letter-spacing="0.6">Cable</text>
<text transform="translate(506.0,417.0) rotate(-34)" text-anchor="middle" dominant-baseline="central" font-size="15" fill="#6e6e6e" letter-spacing="0.6">PoE CCTV</text>
<text transform="translate(526.0,431.0) rotate(-34)" text-anchor="middle" dominant-baseline="central" font-size="15" fill="#6e6e6e" letter-spacing="0.6">Modem</text>
<text transform="translate(636.0,223.5) rotate(-34)" text-anchor="middle" dominant-baseline="central" font-size="15" fill="#6e6e6e" letter-spacing="0.6">CCTV</text>
<text transform="translate(659.5,235.0) rotate(-34)" text-anchor="middle" dominant-baseline="central" font-size="15" fill="#6e6e6e" letter-spacing="0.6">Cameras</text>
<text transform="translate(566.0,355.8) rotate(-25)" text-anchor="middle" dominant-baseline="central" font-size="17" fill="#2f4a88" stroke="#2f4a88" stroke-width="0.2">10/100Mbps</text>
<text transform="translate(571.6,374.0) rotate(-25)" text-anchor="middle" dominant-baseline="central" font-size="17" fill="#2f4a88" stroke="#2f4a88" stroke-width="0.2">PoE</text>
<text transform="translate(657.0,354.0) rotate(-34)" text-anchor="middle" dominant-baseline="central" font-size="15" fill="#6e6e6e" letter-spacing="0.6">L2 Switch</text>
<text transform="translate(742.0,296.0) rotate(-33)" text-anchor="middle" dominant-baseline="central" font-size="17" fill="#2f4a88" stroke="#2f4a88" stroke-width="0.2">10/100Mbps</text>
<text transform="translate(750.5,309.7) rotate(-33)" text-anchor="middle" dominant-baseline="central" font-size="17" fill="#2f4a88" stroke="#2f4a88" stroke-width="0.2">UTP</text>
<text transform="translate(635.0,472.0) rotate(-34)" text-anchor="middle" dominant-baseline="central" font-size="15" fill="#6e6e6e" letter-spacing="0.6">LAN</text>
<text transform="translate(636.5,498.0) rotate(-34)" text-anchor="middle" dominant-baseline="central" font-size="15" fill="#6e6e6e" letter-spacing="0.6">Modem</text>
<text transform="translate(467.0,589.0) rotate(-34)" text-anchor="middle" dominant-baseline="central" font-size="15" fill="#6e6e6e" letter-spacing="0.6">System Center</text>
<text transform="translate(656.0,619.0) rotate(-8)" text-anchor="middle" dominant-baseline="central" font-size="15" fill="#80a8e0" letter-spacing="0.6">Coaxial</text>
<text transform="translate(659.4,640.4) rotate(-8)" text-anchor="middle" dominant-baseline="central" font-size="15" fill="#80a8e0" letter-spacing="0.6">Cable</text>
<text transform="translate(788.0,621.0) rotate(-34)" text-anchor="middle" dominant-baseline="central" font-size="15" fill="#6e6e6e" letter-spacing="0.6">PoE CCTV</text>
<text transform="translate(808.0,635.0) rotate(-34)" text-anchor="middle" dominant-baseline="central" font-size="15" fill="#6e6e6e" letter-spacing="0.6">Modem</text>
<text transform="translate(925.8,428.5) rotate(-34)" text-anchor="middle" dominant-baseline="central" font-size="15" fill="#6e6e6e" letter-spacing="0.6">CCTV</text>
<text transform="translate(950.5,439.0) rotate(-34)" text-anchor="middle" dominant-baseline="central" font-size="15" fill="#6e6e6e" letter-spacing="0.6">Cameras</text>
<text transform="translate(876.0,579.0) rotate(-13)" text-anchor="middle" dominant-baseline="central" font-size="17" fill="#2f4a88" stroke="#2f4a88" stroke-width="0.2">10/100Mbps</text>
<text transform="translate(879.0,597.0) rotate(-13)" text-anchor="middle" dominant-baseline="central" font-size="17" fill="#2f4a88" stroke="#2f4a88" stroke-width="0.2">PoE</text>
<text transform="translate(135.5,722.5) rotate(-31)" text-anchor="middle" dominant-baseline="central" font-size="17" fill="#5c5c5c">Internet</text>
<text transform="translate(269.0,815.0) rotate(-34)" text-anchor="middle" dominant-baseline="central" font-size="15" fill="#6e6e6e" letter-spacing="0.6">NMS</text>
<text transform="translate(410.0,762.0) rotate(-34)" text-anchor="middle" dominant-baseline="central" font-size="15" fill="#6e6e6e" letter-spacing="0.6">NVR</text>
</svg></body></html>
